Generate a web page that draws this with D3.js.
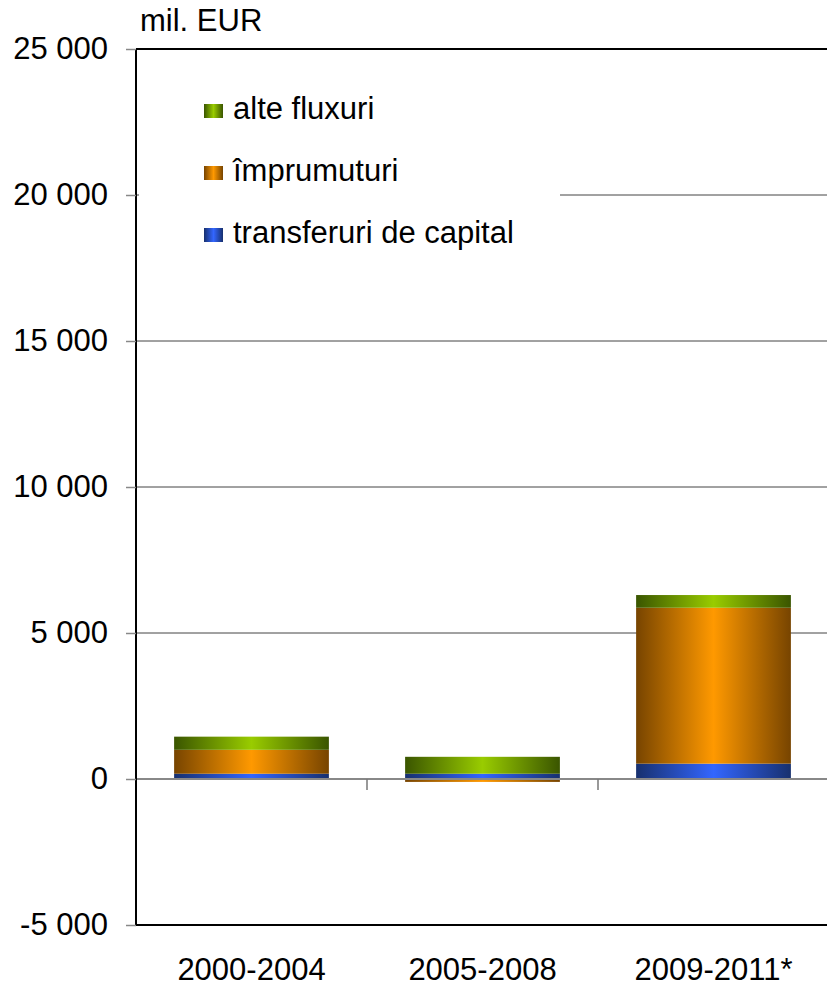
<!DOCTYPE html>
<html><head><meta charset="utf-8">
<script src="https://cdn.jsdelivr.net/npm/d3@7"></script>
<style>body{margin:0;background:#fff}svg{display:block;font-family:"Liberation Sans",Arial,sans-serif}</style>
</head><body><svg id="c" width="827" height="986"></svg>
<script>
const categories = ["2000-2004","2005-2008","2009-2011*"];
const seriesNames = ["transferuri de capital","împrumuturi","alte fluxuri"];
const transferuri = [180, 180, 525];
const imprumuturi = [820, -100, 5340];
const alteFluxuri = [450, 580, 435];
const tickValues = [-5000,0,5000,10000,15000,20000,25000];
const tickLabels = ["-5 000","0","5 000","10 000","15 000","20 000","25 000"];
const unitLabel = "mil. EUR";

const svg = d3.select("#c");
const L=136, R=829, T=49, B=925;
const FS = 31;
const y = d3.scaleLinear().domain([-5000,25000]).range([B,T]);
const x = d3.scaleBand().domain(categories).range([L,R]).paddingInner(0.33).paddingOuter(0.165);

const defs = svg.append("defs");
const grads = [
  {id:"gBlue", edge:"#17306e", mid:"#3366ff"},
  {id:"gOrange", edge:"#774400", mid:"#ff9900"},
  {id:"gGreen", edge:"#3a5500", mid:"#99cc00"}
];
grads.forEach(g=>{
  const lg = defs.append("linearGradient").attr("id",g.id).attr("x1","0").attr("x2","1").attr("y1","0").attr("y2","0");
  lg.append("stop").attr("offset","0").attr("stop-color",g.edge);
  lg.append("stop").attr("offset","0.5").attr("stop-color",g.mid);
  lg.append("stop").attr("offset","1").attr("stop-color",g.edge);
});

// gridlines
svg.append("g").selectAll("line").data(tickValues.filter(v=>v!==0 && v!==-5000 && v!==25000)).join("line")
  .attr("x1",L).attr("x2",827).attr("y1",d=>y(d)).attr("y2",d=>y(d))
  .attr("stroke","#444").attr("stroke-width",1);
// top and bottom lines
svg.append("line").attr("x1",L).attr("x2",827).attr("y1",y(25000)).attr("y2",y(25000)).attr("stroke","#000").attr("stroke-width",2);
svg.append("line").attr("x1",L).attr("x2",827).attr("y1",y(-5000)).attr("y2",y(-5000)).attr("stroke","#000").attr("stroke-width",2);

// stacked bars
const series = [
  {name:seriesNames[0], vals:transferuri, fill:"url(#gBlue)"},
  {name:seriesNames[1], vals:imprumuturi, fill:"url(#gOrange)"},
  {name:seriesNames[2], vals:alteFluxuri, fill:"url(#gGreen)"}
];
const gBars = svg.append("g");
categories.forEach((c,i)=>{
  let pos=0, neg=0;
  series.forEach(s=>{
    const v=s.vals[i];
    let y0,y1;
    if(v>=0){y0=pos;y1=pos+v;pos=y1;} else {y0=neg;y1=neg+v;neg=y1;}
    gBars.append("rect").attr("x",x(c)).attr("width",x.bandwidth())
      .attr("y",y(Math.max(y0,y1))).attr("height",Math.abs(y(y0)-y(y1)))
      .attr("fill",s.fill);
  });
});

// zero line
svg.append("line").attr("x1",L).attr("x2",827).attr("y1",y(0)).attr("y2",y(0)).attr("stroke","#888").attr("stroke-width",2);
// category separator ticks
const step = x.step();
svg.append("g").selectAll("line").data(categories.slice(1)).join("line")
  .attr("x1",d=>x(d)-x.paddingInner()*step/2).attr("x2",d=>x(d)-x.paddingInner()*step/2)
  .attr("y1",y(0)).attr("y2",y(0)+11).attr("stroke","#777").attr("stroke-width",1.5);

// y axis
const yAxis = d3.axisLeft(y).tickValues(tickValues).tickFormat((d,i)=>tickLabels[i]).tickSize(10).tickPadding(18);
const ga = svg.append("g").attr("transform",`translate(${L},0)`).call(yAxis);
ga.select(".domain").attr("stroke","#000").attr("stroke-width",2).attr("d",`M0,${T}V${B}`);
ga.selectAll(".tick line").attr("stroke","#888").attr("stroke-width",1.5);
ga.selectAll("text").attr("font-size",FS).attr("fill","#000").attr("font-family","Liberation Sans, Arial, sans-serif");

// x labels
svg.append("g").selectAll("text").data(categories).join("text")
  .attr("x",d=>x(d)+x.bandwidth()/2).attr("y",980).attr("text-anchor","middle")
  .attr("font-size",FS).attr("fill","#000").text(d=>d);

// unit label
svg.append("text").attr("x",140).attr("y",31).attr("font-size",FS).attr("fill","#000").text(unitLabel);

// legend
const lg = svg.append("g");
lg.append("rect").attr("x",139).attr("y",70).attr("width",421).attr("height",190).attr("fill","#fff");
const legendItems = [series[2], series[1], series[0]];
lg.selectAll("g.item").data(legendItems).join("g").attr("class","item")
  .attr("transform",(d,i)=>`translate(204,${104+i*62})`)
  .each(function(d){
    const g=d3.select(this);
    g.append("rect").attr("width",19).attr("height",14).attr("fill",d.fill);
    g.append("text").attr("x",29).attr("y",15).attr("font-size",FS).attr("fill","#000").text(d.name);
  });
</script></body></html>
